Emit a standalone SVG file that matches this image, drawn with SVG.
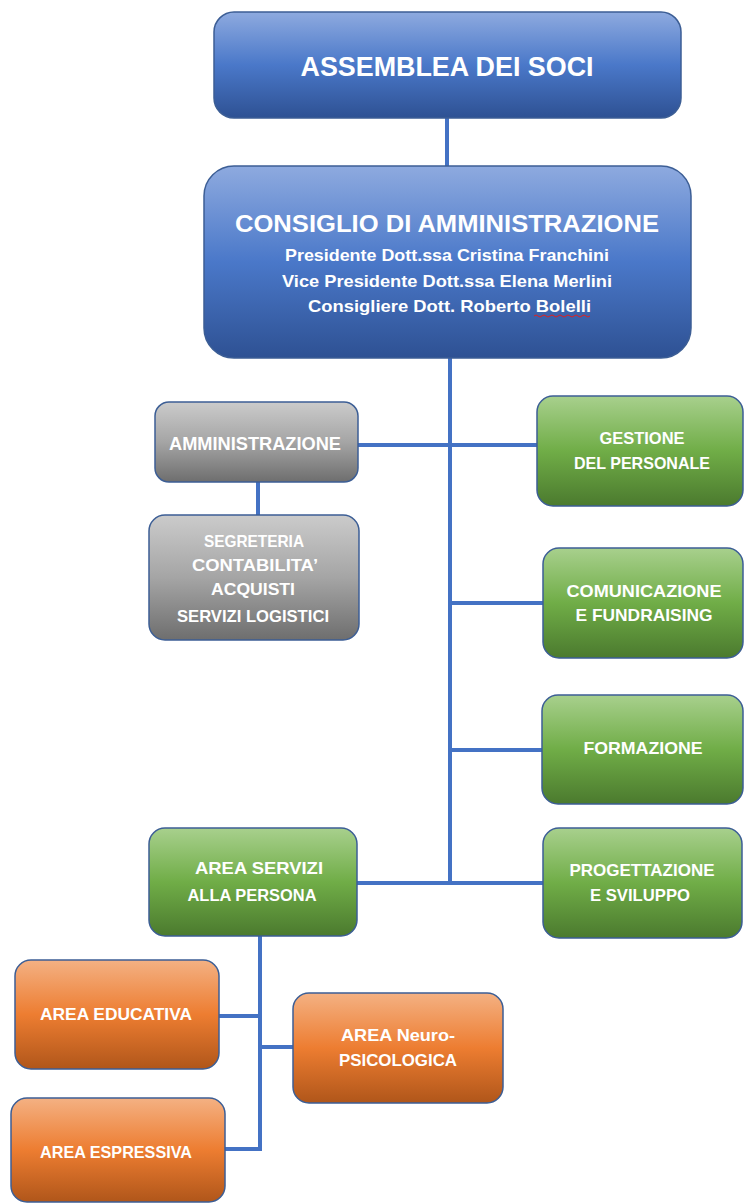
<svg xmlns="http://www.w3.org/2000/svg" width="744" height="1204" viewBox="0 0 744 1204">
<defs>
<linearGradient id="gBlue" x1="0" y1="0" x2="0" y2="1">
<stop offset="0" stop-color="#8EAADF"/><stop offset="0.5" stop-color="#4A78C9"/><stop offset="1" stop-color="#2E5193"/>
</linearGradient>
<linearGradient id="gGray" x1="0" y1="0" x2="0" y2="1">
<stop offset="0" stop-color="#CBCBCB"/><stop offset="0.5" stop-color="#A5A5A5"/><stop offset="1" stop-color="#6E6E6E"/>
</linearGradient>
<linearGradient id="gGreen" x1="0" y1="0" x2="0" y2="1">
<stop offset="0" stop-color="#A8D08D"/><stop offset="0.5" stop-color="#70AD47"/><stop offset="1" stop-color="#4B7A2E"/>
</linearGradient>
<linearGradient id="gOrange" x1="0" y1="0" x2="0" y2="1">
<stop offset="0" stop-color="#F4B183"/><stop offset="0.5" stop-color="#ED7D31"/><stop offset="1" stop-color="#B0561A"/>
</linearGradient>
</defs>
<style>
.box{stroke:#3C5E95;stroke-width:1.5}
.blue{fill:url(#gBlue)}
.gray{fill:url(#gGray)}
.green{fill:url(#gGreen)}
.orange{fill:url(#gOrange)}
text{font-family:"Liberation Sans",Arial,sans-serif;font-weight:bold;fill:#FFFFFF;text-anchor:middle}
.t{font-size:16.5px}
.conn{stroke:#4472C4;stroke-width:4;fill:none}
</style>
<g id="connectors">
<line class="conn" x1="447" y1="118" x2="447" y2="166"/>
<line class="conn" x1="450" y1="358" x2="450" y2="884"/>
<line class="conn" x1="358" y1="445" x2="537" y2="445"/>
<line class="conn" x1="258" y1="482" x2="258" y2="515"/>
<line class="conn" x1="450" y1="603" x2="543" y2="603"/>
<line class="conn" x1="450" y1="750" x2="542" y2="750"/>
<line class="conn" x1="357" y1="883" x2="543" y2="883"/>
<polyline class="conn" points="260,936 260,1149 225,1149"/>
<line class="conn" x1="219" y1="1016" x2="260" y2="1016"/>
<line class="conn" x1="260" y1="1047" x2="293" y2="1047"/>
</g>
<g id="assemblea">
<rect class="box blue" x="214" y="12" width="467" height="106" rx="20"/>
<text x="447" y="76" font-size="27" textLength="293" lengthAdjust="spacingAndGlyphs">ASSEMBLEA DEI SOCI</text>
</g>
<g id="consiglio">
<rect class="box blue" x="204" y="166" width="487" height="192" rx="30"/>
<text x="447" y="232" font-size="24" textLength="424" lengthAdjust="spacingAndGlyphs">CONSIGLIO DI AMMINISTRAZIONE</text>
<text x="447" y="261" font-size="16.5" textLength="324" lengthAdjust="spacingAndGlyphs">Presidente Dott.ssa Cristina Franchini</text>
<text x="447" y="287" font-size="16.5" textLength="330" lengthAdjust="spacingAndGlyphs">Vice Presidente Dott.ssa Elena Merlini</text>
<text x="449.5" y="312" font-size="16.5" textLength="283" lengthAdjust="spacingAndGlyphs">Consigliere Dott. Roberto Bolelli</text>
<path d="M534,316 q2,-2 4,0 t4,0 t4,0 t4,0 t4,0 t4,0 t4,0 t4,0 t4,0 t4,0 t4,0 t4,0 t4,0 t4,0" fill="none" stroke="#E02020" stroke-width="1"/>
</g>
<g id="amministrazione">
<rect class="box gray" x="155" y="402" width="203" height="80" rx="14"/>
<text x="255" y="450" font-size="18" textLength="172" lengthAdjust="spacingAndGlyphs">AMMINISTRAZIONE</text>
</g>
<g id="segreteria">
<rect class="box gray" x="149" y="515" width="210" height="125" rx="16"/>
<text class="t" x="254" y="547" textLength="100" lengthAdjust="spacingAndGlyphs">SEGRETERIA</text>
<text class="t" x="255" y="571" textLength="126" lengthAdjust="spacingAndGlyphs">CONTABILITA’</text>
<text class="t" x="253" y="595" textLength="84" lengthAdjust="spacingAndGlyphs">ACQUISTI</text>
<text class="t" x="253" y="622" textLength="152" lengthAdjust="spacingAndGlyphs">SERVIZI LOGISTICI</text>
</g>
<g id="gestione">
<rect class="box green" x="537" y="396" width="206" height="110" rx="16"/>
<text class="t" x="642" y="444" textLength="85" lengthAdjust="spacingAndGlyphs">GESTIONE</text>
<text class="t" x="642" y="469" textLength="136" lengthAdjust="spacingAndGlyphs">DEL PERSONALE</text>
</g>
<g id="comunicazione">
<rect class="box green" x="543" y="548" width="200" height="110" rx="16"/>
<text class="t" x="644" y="597" textLength="155" lengthAdjust="spacingAndGlyphs">COMUNICAZIONE</text>
<text class="t" x="644" y="621" textLength="137" lengthAdjust="spacingAndGlyphs">E FUNDRAISING</text>
</g>
<g id="formazione">
<rect class="box green" x="542" y="695" width="201" height="109" rx="16"/>
<text class="t" x="643" y="754" textLength="119" lengthAdjust="spacingAndGlyphs">FORMAZIONE</text>
</g>
<g id="progettazione">
<rect class="box green" x="543" y="828" width="199" height="110" rx="16"/>
<text class="t" x="642" y="876" textLength="145" lengthAdjust="spacingAndGlyphs">PROGETTAZIONE</text>
<text class="t" x="640" y="901" textLength="100" lengthAdjust="spacingAndGlyphs">E SVILUPPO</text>
</g>
<g id="area-servizi">
<rect class="box green" x="149" y="828" width="208" height="108" rx="16"/>
<text class="t" x="259" y="874" textLength="128" lengthAdjust="spacingAndGlyphs">AREA SERVIZI</text>
<text class="t" x="252" y="901" textLength="129" lengthAdjust="spacingAndGlyphs">ALLA PERSONA</text>
</g>
<g id="area-educativa">
<rect class="box orange" x="15" y="960" width="204" height="109" rx="16"/>
<text class="t" x="116" y="1020" textLength="152" lengthAdjust="spacingAndGlyphs">AREA EDUCATIVA</text>
</g>
<g id="area-neuro">
<rect class="box orange" x="293" y="993" width="210" height="110" rx="16"/>
<text class="t" x="398" y="1041" textLength="114" lengthAdjust="spacingAndGlyphs">AREA Neuro-</text>
<text class="t" x="398" y="1066" textLength="118" lengthAdjust="spacingAndGlyphs">PSICOLOGICA</text>
</g>
<g id="area-espressiva">
<rect class="box orange" x="11" y="1098" width="214" height="104" rx="16"/>
<text class="t" x="116" y="1158" textLength="152" lengthAdjust="spacingAndGlyphs">AREA ESPRESSIVA</text>
</g>
</svg>
